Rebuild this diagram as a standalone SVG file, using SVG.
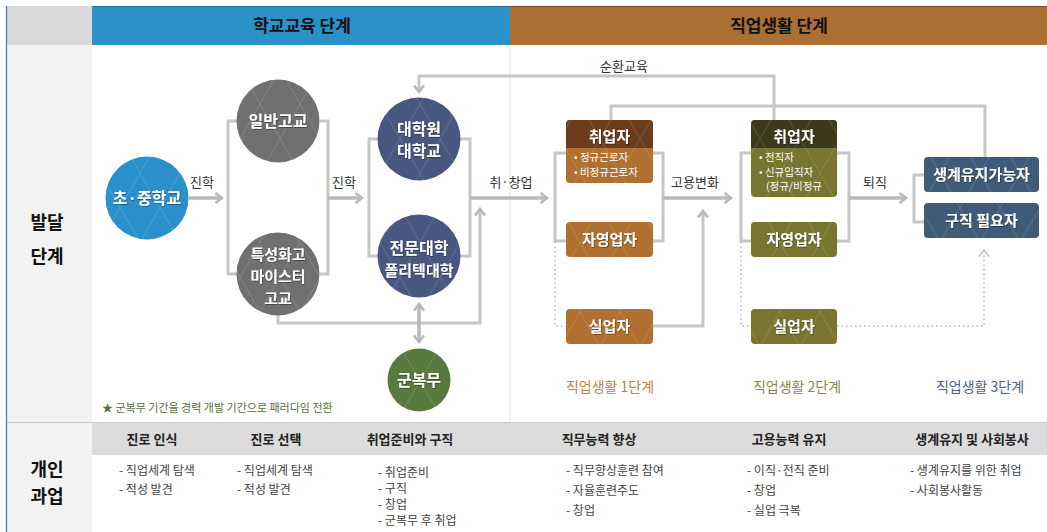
<svg xmlns="http://www.w3.org/2000/svg" width="1047" height="532" viewBox="0 0 1047 532">
<style>
text{font-family:"Noto Sans CJK KR","Noto Sans",sans-serif}
.hd{font-size:17px;font-weight:700;fill:#111;text-anchor:middle}
.side{font-size:18px;font-weight:700;fill:#111;text-anchor:middle}
.ct{font-size:16px;font-weight:700;fill:#fff;text-anchor:middle}
.cm{font-size:15px;font-weight:700;fill:#fff;text-anchor:middle}
.bt{font-size:15px;font-weight:700;fill:#fff;text-anchor:middle}
.sm{font-size:10.5px;fill:#fff}
.lab{font-size:13px;fill:#333;text-anchor:middle}
.col{font-size:13px;font-weight:700;fill:#222;text-anchor:middle}
.li{font-size:12px;fill:#444}
.stg{font-size:14px;text-anchor:middle}
.con{fill:none;stroke:#c6c6c6;stroke-width:3}
.arr{fill:none;stroke:#b8b8b8;stroke-width:3.5}
.dot{fill:none;stroke:#bdbdbd;stroke-width:1.6;stroke-dasharray:1.5 3}
</style>
<defs>
<pattern id="tri" width="40" height="69.28" patternUnits="userSpaceOnUse">
<path d="M0,0 L40,69.28 M40,0 L0,69.28 M20,-34.64 L60,34.64 M-20,34.64 L20,103.92 M20,103.92 L60,34.64 M-20,34.64 L20,-34.64" stroke="#fff" stroke-opacity="0.13" stroke-width="1" fill="none"/>
</pattern>
<marker id="ah" viewBox="0 0 10 12" refX="8" refY="6" markerWidth="10" markerHeight="12" markerUnits="userSpaceOnUse" orient="auto">
<path d="M1.5,1 L8,6 L1.5,11" fill="none" stroke="#b8b8b8" stroke-width="2.6"/>
</marker>
<marker id="ahs" viewBox="0 0 10 12" refX="8" refY="6" markerWidth="10" markerHeight="12" markerUnits="userSpaceOnUse" orient="auto-start-reverse">
<path d="M1.5,1 L8,6 L1.5,11" fill="none" stroke="#b8b8b8" stroke-width="2.6"/>
</marker>
<marker id="ahd" viewBox="0 0 10 12" refX="8" refY="6" markerWidth="10" markerHeight="12" markerUnits="userSpaceOnUse" orient="auto">
<path d="M1.5,1 L8,6 L1.5,11" fill="none" stroke="#c4c4c4" stroke-width="1.6"/>
</marker>
<filter id="ts" x="-10%" y="-10%" width="120%" height="130%"><feDropShadow dx="0.6" dy="0.8" stdDeviation="0.5" flood-color="#000" flood-opacity="0.45"/></filter>
</defs>

<!-- background frame -->
<g id="frame">
<rect x="0" y="0" width="1047" height="532" fill="#fff"/>
<rect x="6" y="6" width="86" height="526" fill="#f2f2f2"/>
<rect x="6" y="6" width="86" height="39" fill="#d9d9d9"/>
<rect x="92" y="6" width="418" height="39" fill="#2b91c9"/>
<rect x="510" y="6" width="537" height="39" fill="#ab6e33"/>
<line x1="92" y1="6.5" x2="510" y2="6.5" stroke="#1f6fa5" stroke-width="1"/>
<line x1="510" y1="6.5" x2="1047" y2="6.5" stroke="#7e4a1c" stroke-width="1"/>
<line x1="510" y1="45" x2="510" y2="422" stroke="#e2e2e2" stroke-width="1"/>
<line x1="6" y1="422.5" x2="1047" y2="422.5" stroke="#c8c8c8" stroke-width="1"/>
<rect x="92" y="423" width="955" height="32" fill="#dcdcdc"/>
<line x1="6.5" y1="6" x2="6.5" y2="532" stroke="#4f72a8" stroke-width="1.2"/>
<text class="hd" x="302" y="32">학교교육 단계</text>
<text class="hd" x="779" y="32">직업생활 단계</text>
<text class="side" x="47" y="229">발달</text>
<text class="side" x="47" y="263">단계</text>
<text class="side" x="47" y="476">개인</text>
<text class="side" x="47" y="503">과업</text>
</g>

<!-- connectors -->
<g id="connectors">
<line class="arr" x1="189" y1="198" x2="222" y2="198" marker-end="url(#ah)"/>
<text class="lab" x="202" y="187">진학</text>
<path class="con" d="M237,121 H228 V274 H237"/>
<path class="con" d="M320,121 H328 V274 H320"/>
<line class="arr" x1="328" y1="198" x2="362" y2="198" marker-end="url(#ah)"/>
<text class="lab" x="344" y="187">진학</text>
<path class="con" d="M378,139 H369 V256 H378"/>
<path class="con" d="M460,139 H470 V256 H460"/>
<line class="arr" x1="470" y1="198" x2="547" y2="198" marker-end="url(#ah)"/>
<text class="lab" x="511" y="187">취·창업</text>
<path class="con" d="M278,315 V323 H480 V209" marker-end="url(#ah)"/>
<line class="arr" x1="419" y1="304" x2="419" y2="342" marker-start="url(#ahs)" marker-end="url(#ah)"/>
<path class="con" d="M774,120 V76 H419 V92" marker-end="url(#ah)"/>
<text class="lab" x="624" y="71">순환교육</text>
<path class="con" d="M611,120 V106 H985 V157"/>
<path class="con" d="M566,153 H555 V241 H566"/>
<path class="dot" d="M555,242 V326 H566"/>
<path class="con" d="M653,153 H663 V241 H653"/>
<line class="arr" x1="663" y1="198" x2="731" y2="198" marker-end="url(#ah)"/>
<text class="lab" x="695" y="187">고용변화</text>
<path class="con" d="M646,326 H703 V211" marker-end="url(#ah)"/>
<path class="con" d="M751,153 H741 V241 H751"/>
<path class="dot" d="M741,242 V326 H751"/>
<path class="con" d="M837,153 H849 V241 H837"/>
<line class="arr" x1="849" y1="198" x2="906" y2="198" marker-end="url(#ah)"/>
<text class="lab" x="875" y="187">퇴직</text>
<path class="dot" d="M837,326 H984 V250" marker-end="url(#ahd)"/>
<path class="con" d="M924,175 H914 V222 H924"/>
</g>

<!-- school nodes -->
<g id="n-elem"><circle cx="147" cy="198" r="41.5" fill="#2a90cb"/><circle cx="147" cy="198" r="41.5" fill="url(#tri)"/><text class="ct" x="147" y="204" filter="url(#ts)">초·중학교</text></g>
<g id="n-high"><circle cx="278" cy="121" r="41.5" fill="#707070"/><circle cx="278" cy="121" r="41.5" fill="url(#tri)"/><text class="ct" x="278" y="127" filter="url(#ts)">일반고교</text></g>
<g id="n-spec"><circle cx="278" cy="274" r="41.5" fill="#707070"/><circle cx="278" cy="274" r="41.5" fill="url(#tri)"/><text class="cm" x="278" y="260" filter="url(#ts)">특성화고</text><text class="cm" x="278" y="282" filter="url(#ts)">마이스터</text><text class="cm" x="278" y="304" filter="url(#ts)">고교</text></g>
<g id="n-univ"><circle cx="419" cy="139" r="41.5" fill="#475780"/><circle cx="419" cy="139" r="41.5" fill="url(#tri)"/><text class="ct" x="419" y="135" filter="url(#ts)">대학원</text><text class="ct" x="419" y="157" filter="url(#ts)">대학교</text></g>
<g id="n-coll"><circle cx="419" cy="256" r="41.5" fill="#475780"/><circle cx="419" cy="256" r="41.5" fill="url(#tri)"/><text class="ct" x="419" y="254" filter="url(#ts)">전문대학</text><text class="cm" x="419" y="276" filter="url(#ts)">폴리텍대학</text></g>
<g id="n-army"><circle cx="419" cy="380" r="31.5" fill="#597a3e"/><circle cx="419" cy="380" r="31.5" fill="url(#tri)"/><text class="ct" x="419" y="386" filter="url(#ts)">군복무</text></g>
<text x="102" y="412" style="font-size:11px;fill:#5b6e3c">★ 군복무 기간을 경력 개발 기간으로 패러다임 전환</text>

<!-- stage 1 -->
<g id="s1-emp">
<rect x="566" y="120" width="87" height="63" rx="4" fill="#b0702f"/>
<path d="M566,148 V124 Q566,120 570,120 H649 Q653,120 653,124 V148 Z" fill="#6b3d1d"/>
<rect x="566" y="120" width="87" height="63" rx="4" fill="url(#tri)"/>
<text class="bt" x="609.5" y="142" filter="url(#ts)">취업자</text>
<text class="sm" x="574" y="161">• 정규근로자</text>
<text class="sm" x="574" y="176">• 비정규근로자</text>
</g>
<g id="s1-self"><rect x="566" y="222" width="87" height="35" rx="4" fill="#b0702f"/><rect x="566" y="222" width="87" height="35" rx="4" fill="url(#tri)"/><text class="bt" x="609.5" y="245" filter="url(#ts)">자영업자</text></g>
<g id="s1-unemp"><rect x="566" y="309" width="87" height="35" rx="4" fill="#b0702f"/><rect x="566" y="309" width="87" height="35" rx="4" fill="url(#tri)"/><text class="bt" x="609.5" y="332" filter="url(#ts)">실업자</text></g>

<!-- stage 2 -->
<g id="s2-emp">
<rect x="751" y="120" width="86" height="77" rx="4" fill="#7a7431"/>
<path d="M751,148 V124 Q751,120 755,120 H833 Q837,120 837,124 V148 Z" fill="#3d3a1b"/>
<rect x="751" y="120" width="86" height="77" rx="4" fill="url(#tri)"/>
<text class="bt" x="794" y="142" filter="url(#ts)">취업자</text>
<text class="sm" x="759" y="161">• 전직자</text>
<text class="sm" x="759" y="176">• 신규입직자</text>
<text class="sm" x="766" y="190">(정규/비정규</text>
</g>
<g id="s2-self"><rect x="751" y="222" width="86" height="35" rx="4" fill="#7a7431"/><rect x="751" y="222" width="86" height="35" rx="4" fill="url(#tri)"/><text class="bt" x="794" y="245" filter="url(#ts)">자영업자</text></g>
<g id="s2-unemp"><rect x="751" y="309" width="86" height="35" rx="4" fill="#7a7431"/><rect x="751" y="309" width="86" height="35" rx="4" fill="url(#tri)"/><text class="bt" x="794" y="332" filter="url(#ts)">실업자</text></g>

<!-- stage 3 -->
<g id="s3-ok"><rect x="924" y="157" width="115" height="35" rx="4" fill="#3f5b78"/><rect x="924" y="157" width="115" height="35" rx="4" fill="url(#tri)"/><text class="bt" x="981.5" y="180" filter="url(#ts)">생계유지가능자</text></g>
<g id="s3-need"><rect x="924" y="203" width="115" height="35" rx="4" fill="#3f5b78"/><rect x="924" y="203" width="115" height="35" rx="4" fill="url(#tri)"/><text class="bt" x="981.5" y="226" filter="url(#ts)">구직 필요자</text></g>

<g id="stage-labels">
<text class="stg" x="610" y="392" style="fill:#c0824a">직업생활 1단계</text>
<text class="stg" x="797" y="392" style="fill:#8a8550">직업생활 2단계</text>
<text class="stg" x="980" y="392" style="fill:#4d6282">직업생활 3단계</text>
</g>

<!-- tasks -->
<g id="tasks">
<text class="col" x="152" y="444">진로 인식</text>
<text class="col" x="276" y="444">진로 선택</text>
<text class="col" x="410" y="444">취업준비와 구직</text>
<text class="col" x="599" y="444">직무능력 향상</text>
<text class="col" x="789" y="444">고용능력 유지</text>
<text class="col" x="972" y="444">생계유지 및 사회봉사</text>
<text class="li" x="119" y="475">- 직업세계 탐색</text>
<text class="li" x="119" y="494">- 적성 발견</text>
<text class="li" x="237" y="475">- 직업세계 탐색</text>
<text class="li" x="237" y="494">- 적성 발견</text>
<text class="li" x="378" y="477">- 취업준비</text>
<text class="li" x="378" y="493">- 구직</text>
<text class="li" x="378" y="509">- 창업</text>
<text class="li" x="378" y="525">- 군복무 후 취업</text>
<text class="li" x="566" y="475">- 직무향상훈련 참여</text>
<text class="li" x="566" y="495">- 자율훈련주도</text>
<text class="li" x="566" y="515">- 창업</text>
<text class="li" x="747" y="475">- 이직·전직 준비</text>
<text class="li" x="747" y="495">- 창업</text>
<text class="li" x="747" y="515">- 실업 극복</text>
<text class="li" x="910" y="475">- 생계유지를 위한 취업</text>
<text class="li" x="910" y="495">- 사회봉사활동</text>
</g>
</svg>
